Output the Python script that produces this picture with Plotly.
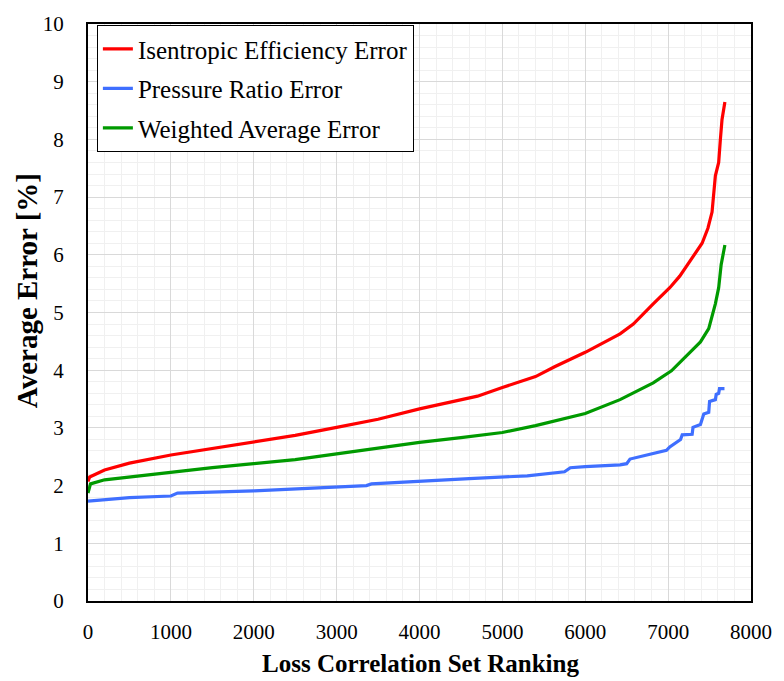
import plotly.graph_objects as go

# Data
red_x = [0, 20, 200, 500, 1000, 1500, 2000, 2500, 3000, 3500, 4000, 4500, 4700, 5000, 5400, 5630, 6000,
         6420, 6580, 6820, 7020, 7140, 7230, 7300, 7410, 7480, 7530, 7570, 7610, 7630, 7650, 7685]
red_y = [2.07, 2.15, 2.27, 2.39, 2.53, 2.64, 2.75, 2.87, 3.01, 3.15, 3.33, 3.48, 3.55, 3.70, 3.89, 4.06, 4.31,
         4.63, 4.80, 5.15, 5.43, 5.63, 5.82, 5.97, 6.20, 6.46, 6.74, 7.37, 7.60, 7.99, 8.34, 8.65]

green_x = [0, 30, 200, 500, 1000, 1500, 2000, 2500, 3000, 3500, 4000, 4500, 5000, 5400, 6000, 6420, 6820,
           7040, 7220, 7390, 7490, 7570, 7610, 7640, 7685]
green_y = [1.87, 2.03, 2.10, 2.15, 2.23, 2.31, 2.38, 2.45, 2.55, 2.65, 2.75, 2.83, 2.92, 3.04, 3.25, 3.49, 3.78,
           3.99, 4.25, 4.49, 4.72, 5.15, 5.43, 5.83, 6.17]

blue_x = [0, 500, 1000, 1080, 2000, 3000, 3360, 3420, 4000, 4600, 5300, 5750, 5820, 6000, 6420, 6500, 6540,
          6820, 6980, 7020, 7100, 7150, 7170, 7290, 7300, 7390, 7430, 7490, 7500, 7570, 7580, 7610, 7620, 7680]
blue_y = [1.73, 1.79, 1.82, 1.87, 1.91, 1.98, 2.00, 2.03, 2.08, 2.12, 2.17, 2.24, 2.31, 2.33, 2.36, 2.38, 2.46,
          2.55, 2.61, 2.67, 2.75, 2.80, 2.88, 2.89, 3.01, 3.06, 3.24, 3.27, 3.46, 3.49, 3.58, 3.60, 3.68, 3.68]

series_names = ["Isentropic Efficiency Error", "Pressure Ratio Error", "Weighted Average Error"]
x_ticks = [0, 1000, 2000, 3000, 4000, 5000, 6000, 7000, 8000]
y_ticks = [0, 1, 2, 3, 4, 5, 6, 7, 8, 9, 10]

FONT = "Liberation Serif, Times New Roman, serif"

fig = go.Figure()
fig.add_trace(go.Scatter(x=red_x, y=red_y, mode="lines", name=series_names[0], legendgroup="a",
                         line=dict(color="#ff0000", width=3.2)))
fig.add_trace(go.Scatter(x=blue_x, y=blue_y, mode="lines", name=series_names[1], legendgroup="b",
                         line=dict(color="#3f6fff", width=3.2)))
fig.add_trace(go.Scatter(x=green_x, y=green_y, mode="lines", name=series_names[2], legendgroup="c",
                         line=dict(color="#009a00", width=3.2)))

fig.update_layout(
    width=784, height=681,
    margin=dict(l=88, r=25, t=16, b=80),
    paper_bgcolor="white", plot_bgcolor="white",
    font=dict(family=FONT, color="black"),
    showlegend=True,
    legend=dict(x=0.0134, y=0.998, xanchor="left", yanchor="top",
                bgcolor="white", bordercolor="black", borderwidth=1,
                traceorder="grouped", tracegroupgap=4,
                font=dict(family=FONT, size=25, color="black")),
    xaxis=dict(range=[0, 8000], tickvals=x_ticks, showgrid=True, gridcolor="#d9d9d9", gridwidth=1,
               minor=dict(dtick=200, showgrid=True, gridcolor="#f0f0f0", gridwidth=1),
               showline=True, linecolor="black", linewidth=2, mirror=True, zeroline=False,
               tickfont=dict(family=FONT, size=21), ticklabelstandoff=11),
    yaxis=dict(range=[0, 10], tickvals=y_ticks, showgrid=True, gridcolor="#d9d9d9", gridwidth=1,
               minor=dict(dtick=0.2, showgrid=True, gridcolor="#f0f0f0", gridwidth=1),
               showline=True, linecolor="black", linewidth=2, mirror=True, zeroline=False,
               tickfont=dict(family=FONT, size=21), ticklabelstandoff=18),
    annotations=[
        dict(text="<b>Loss Correlation Set Ranking</b>", xref="paper", yref="paper",
             x=0.502, y=-0.109, xanchor="center", yanchor="middle", showarrow=False,
             font=dict(family=FONT, size=25, color="black")),
        dict(text="<b>Average Error [%]</b>", xref="paper", yref="paper",
             x=-0.092, y=0.537, xanchor="center", yanchor="middle", showarrow=False, textangle=-90,
             font=dict(family=FONT, size=29, color="black")),
    ],
)

fig.write_html("out.html")
